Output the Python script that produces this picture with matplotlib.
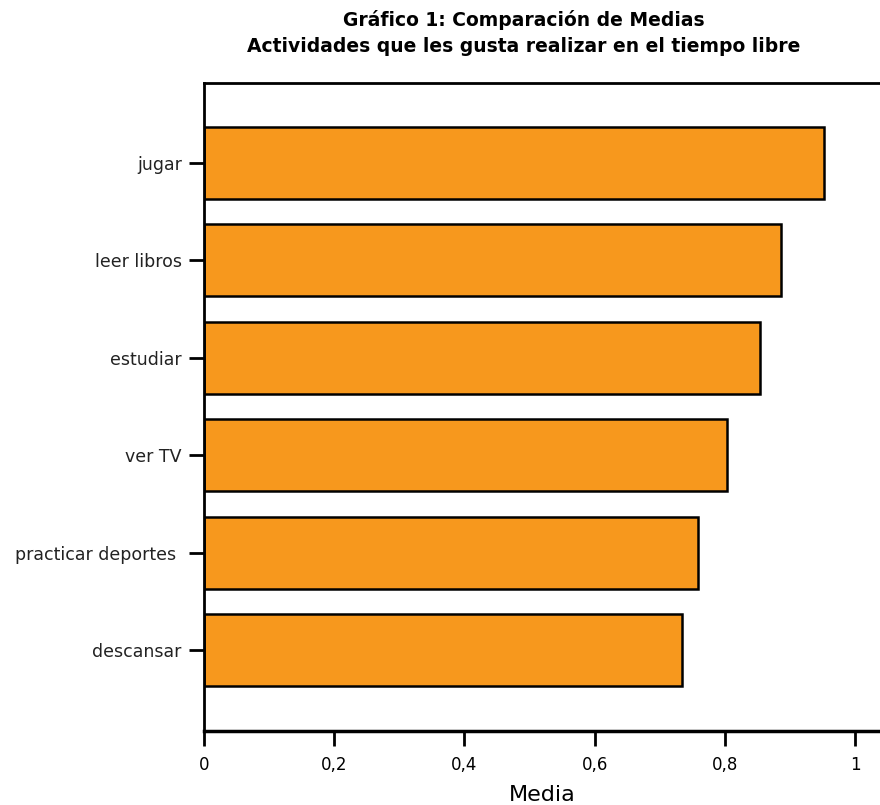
import matplotlib
matplotlib.use('Agg')
import matplotlib.pyplot as plt
from matplotlib.ticker import FuncFormatter

# Activities (bottom to top) and their means
actividades = ['descansar', 'practicar deportes ', 'ver TV', 'estudiar', 'leer libros', 'jugar']
medias = [0.734, 0.759, 0.803, 0.854, 0.886, 0.952]
xticks = [0, 0.2, 0.4, 0.6, 0.8, 1.0]

fig = plt.figure(figsize=(8.8, 8.05), dpi=100)
ax = fig.add_axes([0.2318, 0.0919, 0.7682, 0.805])

ax.barh(range(len(actividades)), medias, height=0.74, color='#F7981D',
        edgecolor='black', linewidth=1.8)

ax.set_yticks(range(len(actividades)))
ax.set_yticklabels(actividades, fontsize=12.5, color='#222222')
ax.set_ylim(-0.83, 5.82)
ax.set_xlim(0, 1.038)
ax.set_xticks(xticks)
ax.xaxis.set_major_formatter(FuncFormatter(lambda v, p: ('%g' % v).replace('.', ',')))
for lab in ax.get_xticklabels():
    lab.set_fontsize(12)

ax.tick_params(axis='both', direction='out', width=2, length=11, color='black')
ax.tick_params(axis='x', pad=7)
ax.tick_params(axis='y', pad=5)

ax.spines['right'].set_visible(False)
ax.spines['top'].set_linewidth(2)
ax.spines['left'].set_linewidth(2)
ax.spines['bottom'].set_linewidth(2.5)

ax.set_xlabel('Media', fontsize=16, labelpad=8)

fig.text(0.595, 0.975, 'Gráfico 1: Comparación de Medias', ha='center', va='center',
         fontsize=13.5, fontweight='bold')
fig.text(0.595, 0.942, 'Actividades que les gusta realizar en el tiempo libre',
         ha='center', va='center', fontsize=13.5, fontweight='bold')

fig.savefig('out.png', dpi=100)
